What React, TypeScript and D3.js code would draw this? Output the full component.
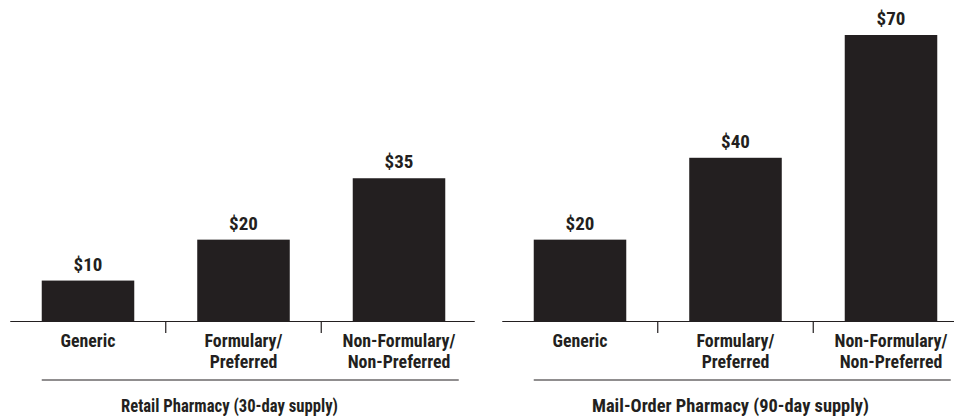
import React from "react";
import * as d3 from "d3";

const categories = ["Generic", "Formulary/\nPreferred", "Non-Formulary/\nNon-Preferred"];
const retailValues = [10, 20, 35];
const mailValues = [20, 40, 70];
const panelTitles = ["Retail Pharmacy (30-day supply)", "Mail-Order Pharmacy (90-day supply)"];

const W = 954;
const H = 417;
const INK = "#231f20";
const FONT = "'Liberation Sans Narrow', 'Roboto Condensed', 'DejaVu Sans Condensed', 'Arial Narrow', sans-serif";

const y = d3.scaleLinear().domain([0, 70]).range([321.5, 35]);

type PanelProps = { values: number[]; title: string; x0: number; titleX: number; titleLen: number };

function Panel({ values, title, x0, titleX, titleLen }: PanelProps) {
  const step = 155.5;
  const x = d3
    .scaleBand<string>()
    .domain(categories)
    .range([x0, x0 + step * 3])
    .paddingInner(0.405)
    .paddingOuter(0.2025);
  const bw = x.bandwidth();
  const axisY = 321.5;
  const lineEnd = Math.min(W, x0 + step * 3 - 18);
  return (
    <g>
      {categories.map((c, i) => {
        const cx = (x(c) as number) + bw / 2;
        return (
          <g key={c}>
            <rect x={x(c)} y={y(values[i])} width={bw} height={y(0) - y(values[i])} fill={INK} />
            <text
              x={cx}
              y={y(values[i]) - 10}
              textAnchor="middle"
              fontSize={19}
              fontWeight="bold"
              fill={INK}
            >
              ${values[i]}
            </text>
            {c.split("\n").map((line, j) => (
              <text
                key={j}
                transform={`translate(${cx},${347 + j * 21}) scale(0.94,1)`}
                textAnchor="middle"
                fontSize={19}
                fontWeight="bold"
                fill={INK}
              >
                {line}
              </text>
            ))}
          </g>
        );
      })}
      <line x1={x0} x2={Math.min(W, x0 + step * 3 - 2)} y1={axisY} y2={axisY} stroke={INK} strokeWidth={1.2} />
      {categories.slice(1).map((c) => {
        const tx = (x(c) as number) - (step - bw) / 2;
        return <line key={c} x1={tx} x2={tx} y1={axisY} y2={333} stroke={INK} strokeWidth={1.2} />;
      })}
      <line x1={x(categories[0])} x2={lineEnd} y1={380} y2={380} stroke={INK} strokeWidth={1.2} />
      <text
        x={titleX}
        y={411.5}
        textAnchor="middle"
        fontSize={19}
        fontWeight="bold"
        fill={INK}
        textLength={titleLen}
        lengthAdjust="spacingAndGlyphs"
      >
        {title}
      </text>
    </g>
  );
}

export default function App() {
  return (
    <svg
      width={W}
      height={H}
      style={{ position: "absolute", left: 0, top: 0, background: "#fff", fontFamily: FONT }}
    >
      <rect width={W} height={H} fill="#fff" />
      <Panel values={retailValues} title={panelTitles[0]} x0={10.25} titleX={229.5} titleLen={217} />
      <Panel values={mailValues} title={panelTitles[1]} x0={502.25} titleX={730.5} titleLen={277} />
    </svg>
  );
}
